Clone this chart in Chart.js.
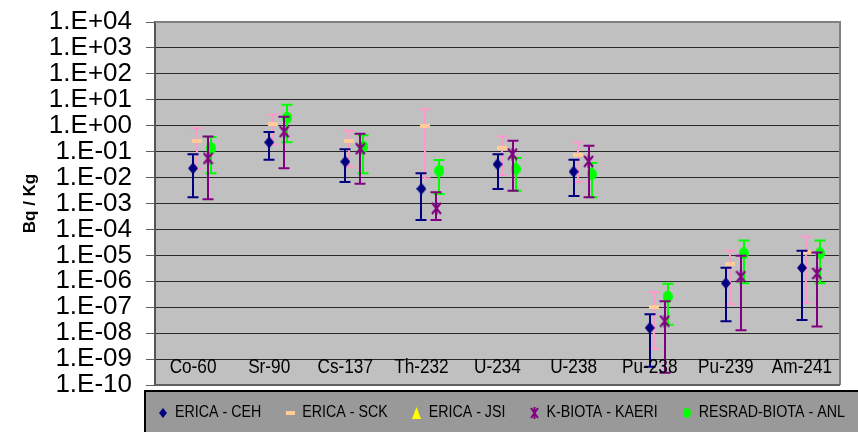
<!DOCTYPE html>
<html>
<head>
<meta charset="utf-8">
<script src="https://cdn.jsdelivr.net/npm/chart.js@4.4.0/dist/chart.umd.min.js"></script>
<style>
  html, body { margin: 0; padding: 0; background: #ffffff; }
  #wrap { width: 858px; height: 432px; }
</style>
</head>
<body>
<div id="wrap"><canvas id="chart" width="858" height="432"></canvas></div>
<script>
// Radionuclides on the category axis
const nuclides = ['Co-60', 'Sr-90', 'Cs-137', 'Th-232', 'U-234', 'U-238', 'Pu-238', 'Pu-239', 'Am-241'];

// Decade ticks of the log axis and their labels
const yTickValues = [1e-10, 1e-9, 1e-8, 1e-7, 1e-6, 1e-5, 1e-4, 1e-3, 1e-2, 1e-1, 1e0, 1e1, 1e2, 1e3, 1e4];
const yTickLabels = ['1.E-10', '1.E-09', '1.E-08', '1.E-07', '1.E-06', '1.E-05', '1.E-04', '1.E-03',
                     '1.E-02', '1.E-01', '1.E+00', '1.E+01', '1.E+02', '1.E+03', '1.E+04'];

const seriesNames = ['ERICA - CEH', 'ERICA - SCK', 'ERICA - JSI', 'K-BIOTA - KAERI', 'RESRAD-BIOTA - ANL'];

// ERICA - CEH
const cehValue = [0.0228, 0.23, 0.041, 0.0037, 0.0325, 0.0169, 1.6e-8, 8.4e-7, 3.3e-6];
const cehLow   = [0.00173, 0.049, 0.0068, 0.00023, 0.0036, 0.00195, 5.1e-10, 2.9e-8, 3.2e-8];
const cehHigh  = [0.079, 0.57, 0.123, 0.0146, 0.079, 0.049, 5.3e-8, 3.3e-6, 1.5e-5];

// ERICA - SCK
const sckValue = [0.25, 1.13, 0.25, 0.97, 0.135, 0.072, 1.05e-7, 4.7e-6, 1.4e-5];
const sckLow   = [0.022, 0.19, 0.027, 0.0094, 0.0126, 0.0068, 2.5e-9, 1.3e-7, 1.5e-7];
const sckHigh  = [0.79, 2.66, 0.645, 4.3, 0.38, 0.23, 3.9e-7, 1.5e-5, 5.3e-5];

// ERICA - JSI (no results)
const jsiValue = [null, null, null, null, null, null, null, null, null];
const jsiLow   = [null, null, null, null, null, null, null, null, null];
const jsiHigh  = [null, null, null, null, null, null, null, null, null];

// K-BIOTA - KAERI
const kaeriValue = [0.055, 0.59, 0.13, 0.00065, 0.081, 0.042, 2.9e-8, 1.5e-6, 2.0e-6];
const kaeriLow   = [0.00145, 0.0228, 0.0058, 0.00023, 0.0031, 0.00173, 3.0e-10, 1.3e-8, 1.8e-8];
const kaeriHigh  = [0.38, 2.23, 0.49, 0.0027, 0.264, 0.17, 1.7e-7, 9.7e-6, 1.3e-5];

// RESRAD-BIOTA - ANL
const anlValue = [0.135, 2.04, 0.156, 0.0185, 0.0214, 0.0137, 2.55e-7, 1.2e-5, 1.2e-5];
const anlLow   = [0.0146, 0.23, 0.0146, 0.0023, 0.0031, 0.00173, 2.1e-8, 8.4e-7, 8.4e-7];
const anlHigh  = [0.37, 6.5, 0.43, 0.048, 0.057, 0.0365, 8.1e-7, 3.7e-5, 3.7e-5];

const FONT = "'Liberation Sans', Arial, sans-serif";

// Small canvases used as marker shapes
function makeMarker(w, h, draw) {
  const c = document.createElement('canvas');
  c.width = w; c.height = h;
  draw(c.getContext('2d'), w, h);
  return c;
}
const diamondMark = (w, h) => makeMarker(w, h, (g) => {
  g.fillStyle = '#000080';
  g.beginPath(); g.moveTo(w / 2, 0); g.lineTo(w, h / 2); g.lineTo(w / 2, h); g.lineTo(0, h / 2); g.closePath(); g.fill();
});
const dashMark = (w, h) => makeMarker(w, h, (g) => { g.fillStyle = '#FFCC99'; g.fillRect(0, 0, w, h); });
const triMark = (w, h) => makeMarker(w, h, (g) => {
  g.fillStyle = '#FFFF00';
  g.beginPath(); g.moveTo(w / 2, 0); g.lineTo(w, h); g.lineTo(0, h); g.closePath(); g.fill();
});
const starMark = (w, h) => makeMarker(w, h, (g) => {
  g.strokeStyle = '#800080'; g.lineWidth = 2;
  g.beginPath();
  g.moveTo(1, 1); g.lineTo(w - 1, h - 1);
  g.moveTo(w - 1, 1); g.lineTo(1, h - 1);
  g.moveTo(w / 2, 0); g.lineTo(w / 2, h);
  g.stroke();
});
const dotMark = (w, h) => makeMarker(w, h, (g) => {
  g.fillStyle = '#00FF00';
  g.beginPath(); g.ellipse(w / 2, h / 2, w / 2, h / 2, 0, 0, Math.PI * 2); g.fill();
});

const markers = [diamondMark(10, 12), dashMark(10, 4), triMark(10, 11), starMark(11, 13), dotMark(10, 12)];
const legendMarkers = [diamondMark(8, 10), dashMark(9, 4), triMark(9, 12), starMark(9, 12), dotMark(8, 10)];

const barColors = ['#000080', '#FF99CC', '#FFFF00', '#800080', '#00FF00'];
const xShift = [0, 4, 9, 15, 18];

const values = [cehValue, sckValue, jsiValue, kaeriValue, anlValue];
const lows = [cehLow, sckLow, jsiLow, kaeriLow, anlLow];
const highs = [cehHigh, sckHigh, jsiHigh, kaeriHigh, anlHigh];

const datasets = seriesNames.map((name, i) => ({
  label: name,
  data: values[i],
  low: lows[i],
  high: highs[i],
  barColor: barColors[i],
  xShift: xShift[i],
  showLine: false,
  pointStyle: markers[i],
  pointRadius: 6,
  borderColor: barColors[i],
  backgroundColor: barColors[i]
}));

const chartPlugin = {
  id: 'excelLook',
  beforeDraw(chart) {
    const { ctx, chartArea: a } = chart;
    ctx.save();
    ctx.fillStyle = '#ffffff';
    ctx.fillRect(0, 0, chart.width, chart.height);
    ctx.fillStyle = '#C0C0C0';
    ctx.fillRect(a.left, a.top, a.right - a.left, a.bottom - a.top);
    ctx.restore();
  },
  afterDatasetsUpdate(chart) {
    chart.data.datasets.forEach((ds, i) => {
      const meta = chart.getDatasetMeta(i);
      meta.data.forEach((pt) => { pt.x += ds.xShift; });
    });
  },
  beforeDatasetDraw(chart, args) {
    const ds = chart.data.datasets[args.index];
    const y = chart.scales.y;
    const x = chart.scales.x;
    const ctx = chart.ctx;
    ctx.save();
    ctx.strokeStyle = ds.barColor;
    ctx.lineWidth = 2;
    ds.low.forEach((lo, k) => {
      const hi = ds.high[k];
      if (lo == null || hi == null) return;
      const px = Math.round(x.getPixelForValue(k) + ds.xShift);
      const yl = y.getPixelForValue(lo);
      const yh = y.getPixelForValue(hi);
      ctx.beginPath();
      ctx.moveTo(px, yl); ctx.lineTo(px, yh);
      ctx.moveTo(px - 5.5, yl); ctx.lineTo(px + 5.5, yl);
      ctx.moveTo(px - 5.5, yh); ctx.lineTo(px + 5.5, yh);
      ctx.stroke();
    });
    ctx.restore();
  },
  afterDatasetsDraw(chart) {
    const { ctx, chartArea: a } = chart;
    const x = chart.scales.x;
    ctx.save();
    // category names sit inside the plot, along its lower edge
    ctx.fillStyle = '#000000';
    ctx.font = '20px ' + FONT;
    ctx.textAlign = 'center';
    ctx.textBaseline = 'middle';
    nuclides.forEach((name, i) => {
      const cx = x.getPixelForValue(i);
      ctx.save();
      ctx.translate(cx, 367);
      ctx.scale(0.86, 1);
      ctx.fillText(name, 0, 0);
      ctx.restore();
    });
    // plot frame
    ctx.strokeStyle = '#808080';
    ctx.lineWidth = 2;
    ctx.beginPath();
    ctx.moveTo(a.left, a.top); ctx.lineTo(a.right, a.top); ctx.lineTo(a.right, a.bottom);
    ctx.stroke();
    ctx.strokeStyle = '#606060';
    ctx.beginPath();
    ctx.moveTo(a.left, a.bottom); ctx.lineTo(a.right, a.bottom);
    ctx.stroke();
    ctx.restore();
  },
  afterDraw(chart) {
    const ctx = chart.ctx;
    ctx.save();
    // legend box
    ctx.fillStyle = '#999999';
    ctx.fillRect(144, 390, 760, 60);
    ctx.strokeStyle = '#000000';
    ctx.lineWidth = 2;
    ctx.strokeRect(145, 391, 760, 60);
    ctx.font = '16px ' + FONT;
    ctx.textBaseline = 'middle';
    ctx.textAlign = 'left';
    ctx.fillStyle = '#000000';
    const cy = 412.5;
    let mx = 163;
    seriesNames.forEach((name, i) => {
      const m = legendMarkers[i];
      ctx.drawImage(m, Math.round(mx - m.width / 2), Math.round(cy - m.height / 2));
      const tx = mx + 12;
      const w = ctx.measureText(name).width * 0.89;
      ctx.save();
      ctx.translate(tx, cy);
      ctx.scale(0.89, 1);
      ctx.fillText(name, 0, 0);
      ctx.restore();
      mx = tx + w + 29;
    });
    ctx.restore();
  }
};

new Chart(document.getElementById('chart'), {
  type: 'line',
  data: { labels: nuclides, datasets },
  plugins: [chartPlugin],
  options: {
    responsive: false,
    animation: false,
    events: [],
    devicePixelRatio: 1,
    layout: { padding: { left: 0, right: 18, top: 22, bottom: 47 } },
    plugins: { legend: { display: false }, tooltip: { enabled: false } },
    scales: {
      x: {
        type: 'category',
        display: false,
        offset: true
      },
      y: {
        type: 'logarithmic',
        min: 1e-10,
        max: 1e4,
        afterBuildTicks(scale) {
          scale.ticks = yTickValues.map((v) => ({ value: v }));
        },
        afterFit(scale) {
          scale.width = 155;
          scale.paddingTop = 0;
          scale.paddingBottom = 0;
        },
        ticks: {
          autoSkip: false,
          padding: 14,
          color: '#000000',
          font: { family: FONT, size: 26 },
          callback(value) {
            const k = yTickValues.indexOf(value);
            return k >= 0 ? yTickLabels[k] : '';
          }
        },
        grid: {
          color: (c) => (c.tick && c.tick.value === 1e4 ? '#808080' : '#2a2a2a'),
          lineWidth: 1,
          tickLength: 9,
          tickColor: '#606060',
          drawTicks: true
        },
        border: { display: true, color: '#555555', width: 2 },
        title: {
          display: true,
          text: 'Bq / Kg',
          color: '#000000',
          font: { family: FONT, size: 17, weight: 'bold' },
          padding: { top: 20, bottom: 0 }
        }
      }
    }
  }
});
</script>
</body>
</html>
